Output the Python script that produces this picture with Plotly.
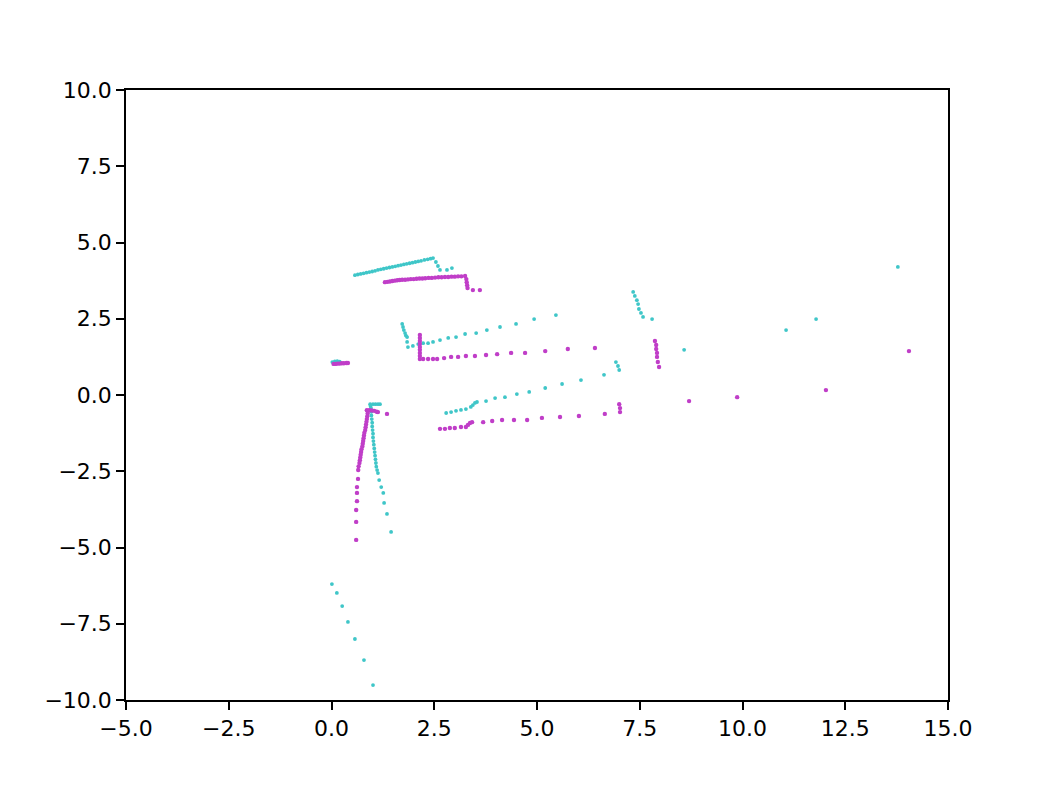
import plotly.graph_objects as go

# Cyan scan points
cyan_x = [
    # top wall
    0.57, 0.64, 0.71, 0.78, 0.85, 0.92, 0.99, 1.06, 1.13, 1.20, 1.27, 1.34, 1.41, 1.48,
    1.55, 1.62, 1.69, 1.76, 1.83, 1.90, 1.97, 2.04, 2.11, 2.18, 2.26, 2.34, 2.41, 2.47,
    2.54, 2.59, 2.64, 2.81, 2.93,
    # middle wall
    1.72, 1.74, 1.76, 1.79, 1.81, 1.84, 1.84, 1.86, 1.98, 2.11, 2.23, 2.35, 2.47, 2.64,
    2.84, 3.03, 3.25, 3.52, 3.78, 4.10, 4.49, 4.93, 5.46,
    # right features
    7.34, 7.38, 7.43, 7.46, 7.48, 7.53, 7.58, 7.80, 8.58,
    6.92, 6.97, 7.00, 6.63,
    13.78, 11.79, 11.06,
    # lower wall
    2.79, 2.91, 3.03, 3.15, 3.27, 3.39, 3.44, 3.49, 3.54, 3.76, 3.98, 4.22, 4.51, 4.81,
    5.20, 5.61, 6.07,
    # left legs
    0.94, 1.01, 1.07, 1.13, 1.18, 0.95,
    0.96, 0.97, 0.97, 0.98, 0.99, 0.99, 1.00, 1.01, 1.01, 1.02, 1.03, 1.04, 1.05, 1.06,
    1.07, 1.08, 1.09, 1.11,
    1.13, 1.16, 1.21, 1.26, 1.28, 1.35, 1.45,
    # origin cluster
    0.02, 0.08, 0.14, 0.20,
    # bottom trail
    0.01, 0.13, 0.26, 0.40, 0.57, 0.79, 1.01,
]
cyan_y = [
    3.93, 3.95, 3.97, 3.99, 4.01, 4.03, 4.05, 4.07, 4.10, 4.12, 4.14, 4.16, 4.18, 4.20,
    4.22, 4.24, 4.26, 4.28, 4.30, 4.32, 4.34, 4.36, 4.38, 4.40, 4.43, 4.45, 4.47, 4.49,
    4.36, 4.23, 4.10, 4.10, 4.16,
    2.33, 2.23, 2.13, 2.03, 1.95, 1.90, 1.74, 1.57, 1.61, 1.67, 1.70, 1.70, 1.74, 1.80,
    1.87, 1.90, 2.00, 2.03, 2.13, 2.23, 2.33, 2.49, 2.62,
    3.38, 3.25, 3.11, 2.98, 2.82, 2.69, 2.56, 2.49, 1.48,
    1.08, 0.95, 0.82, 0.66,
    4.20, 2.49, 2.13,
    -0.59, -0.56, -0.52, -0.49, -0.46, -0.39, -0.33, -0.26, -0.23, -0.20, -0.10, -0.07,
    0.03, 0.10, 0.23, 0.36, 0.49,
    -0.30, -0.30, -0.30, -0.30, -0.30, -0.36,
    -0.43, -0.55, -0.67, -0.79, -0.91, -1.03, -1.15, -1.27, -1.39, -1.51, -1.63, -1.75,
    -1.87, -1.99, -2.11, -2.23, -2.35, -2.46,
    -2.56, -2.79, -3.02, -3.21, -3.54, -3.90, -4.49,
    1.08, 1.10, 1.11, 1.09,
    -6.20, -6.49, -6.92, -7.44, -8.00, -8.69, -9.51,
]

# Magenta scan points
magenta_x = [
    # top wall
    1.30, 1.36, 1.42, 1.48, 1.54, 1.60, 1.66, 1.72, 1.79, 1.86, 1.93, 2.00, 2.07, 2.14,
    2.21, 2.28, 2.36, 2.44, 2.52, 2.60, 2.68, 2.76, 2.84, 2.92, 3.00, 3.08, 3.16, 3.25,
    3.28, 3.29, 3.30, 3.31, 3.44, 3.61,
    # middle wall
    2.15, 2.15, 2.15, 2.15, 2.15, 2.15, 2.15, 2.15,
    2.15, 2.23, 2.35, 2.47, 2.57, 2.74, 2.91, 3.08, 3.27, 3.49, 3.76, 4.03, 4.37, 4.71,
    5.20, 5.75, 6.41,
    # right features
    7.87, 7.90, 7.90, 7.92, 7.92, 7.94, 7.97,
    14.05, 12.03, 9.87, 8.70,
    # lower wall
    2.64, 2.76, 2.88, 3.00, 3.15, 3.27, 3.32, 3.37, 3.42, 3.69, 3.91, 4.15, 4.44, 4.76,
    5.12, 5.56, 6.02, 6.65, 7.00, 7.02, 7.02,
    # left leg
    0.86, 0.92, 0.98, 1.04, 1.10, 1.13, 1.35,
    0.89, 0.88, 0.87, 0.86, 0.85, 0.84, 0.83, 0.82, 0.80, 0.79, 0.78, 0.77, 0.76, 0.75,
    0.73, 0.72, 0.71, 0.70, 0.69, 0.68, 0.66, 0.65,
    0.645, 0.62, 0.62, 0.62, 0.60, 0.60, 0.60,
    # origin cluster
    0.05, 0.10, 0.15, 0.20, 0.25, 0.30, 0.36, 0.40,
]
magenta_y = [
    3.70, 3.71, 3.72, 3.74, 3.75, 3.76, 3.77, 3.78, 3.78, 3.79, 3.80, 3.80, 3.81, 3.82,
    3.82, 3.83, 3.84, 3.84, 3.85, 3.86, 3.86, 3.87, 3.87, 3.88, 3.88, 3.89, 3.89, 3.90,
    3.80, 3.70, 3.60, 3.51, 3.44, 3.44,
    1.97, 1.87, 1.77, 1.67, 1.57, 1.48, 1.38, 1.28,
    1.18, 1.18, 1.18, 1.18, 1.18, 1.21, 1.25, 1.25, 1.28, 1.28, 1.31, 1.34, 1.38, 1.38,
    1.44, 1.51, 1.54,
    1.77, 1.64, 1.51, 1.38, 1.25, 1.08, 0.92,
    1.44, 0.16, -0.07, -0.20,
    -1.11, -1.11, -1.08, -1.08, -1.05, -1.05, -0.98, -0.92, -0.89, -0.89, -0.85, -0.82,
    -0.82, -0.82, -0.75, -0.72, -0.69, -0.62, -0.30, -0.43, -0.56,
    -0.50, -0.50, -0.51, -0.52, -0.55, -0.56, -0.62,
    -0.52, -0.61, -0.70, -0.79, -0.88, -0.97, -1.06, -1.15, -1.24, -1.33, -1.42, -1.51,
    -1.60, -1.69, -1.78, -1.87, -1.96, -2.05, -2.14, -2.23, -2.34, -2.46,
    -2.75, -3.02, -3.21, -3.48, -3.77, -4.16, -4.75,
    1.02, 1.02, 1.03, 1.03, 1.04, 1.04, 1.05, 1.05,
]

tick_vals_x = [-5.0, -2.5, 0.0, 2.5, 5.0, 7.5, 10.0, 12.5, 15.0]
tick_text_x = ["\u22125.0", "\u22122.5", "0.0", "2.5", "5.0", "7.5", "10.0", "12.5", "15.0"]
tick_vals_y = [-10.0, -7.5, -5.0, -2.5, 0.0, 2.5, 5.0, 7.5, 10.0]
tick_text_y = ["\u221210.0", "\u22127.5", "\u22125.0", "\u22122.5", "0.0", "2.5", "5.0", "7.5", "10.0"]

fig = go.Figure()
fig.add_trace(go.Scatter(
    x=cyan_x, y=cyan_y, mode="markers",
    marker=dict(size=3.8, color="#3fc6c8", line=dict(width=0)),
    showlegend=False, hoverinfo="x+y",
))
fig.add_trace(go.Scatter(
    x=magenta_x, y=magenta_y, mode="markers",
    marker=dict(size=4.4, color="#c03ec8", line=dict(width=0)),
    showlegend=False, hoverinfo="x+y",
))

axis_common = dict(
    showgrid=False, zeroline=False, showline=True, linecolor="black", linewidth=1.6,
    mirror=True, ticks="outside", ticklen=8, tickwidth=1.6, tickcolor="black",
    tickfont=dict(family="DejaVu Sans", size=22, color="black"),
)
fig.update_xaxes(range=[-5, 15], tickvals=tick_vals_x, ticktext=tick_text_x, **axis_common)
fig.update_yaxes(range=[-10, 10], tickvals=tick_vals_y, ticktext=tick_text_y, **axis_common)

fig.update_layout(
    width=1038, height=796,
    margin=dict(l=118, r=98, t=82, b=104),
    plot_bgcolor="white", paper_bgcolor="white",
)

fig.write_html("out.html")
